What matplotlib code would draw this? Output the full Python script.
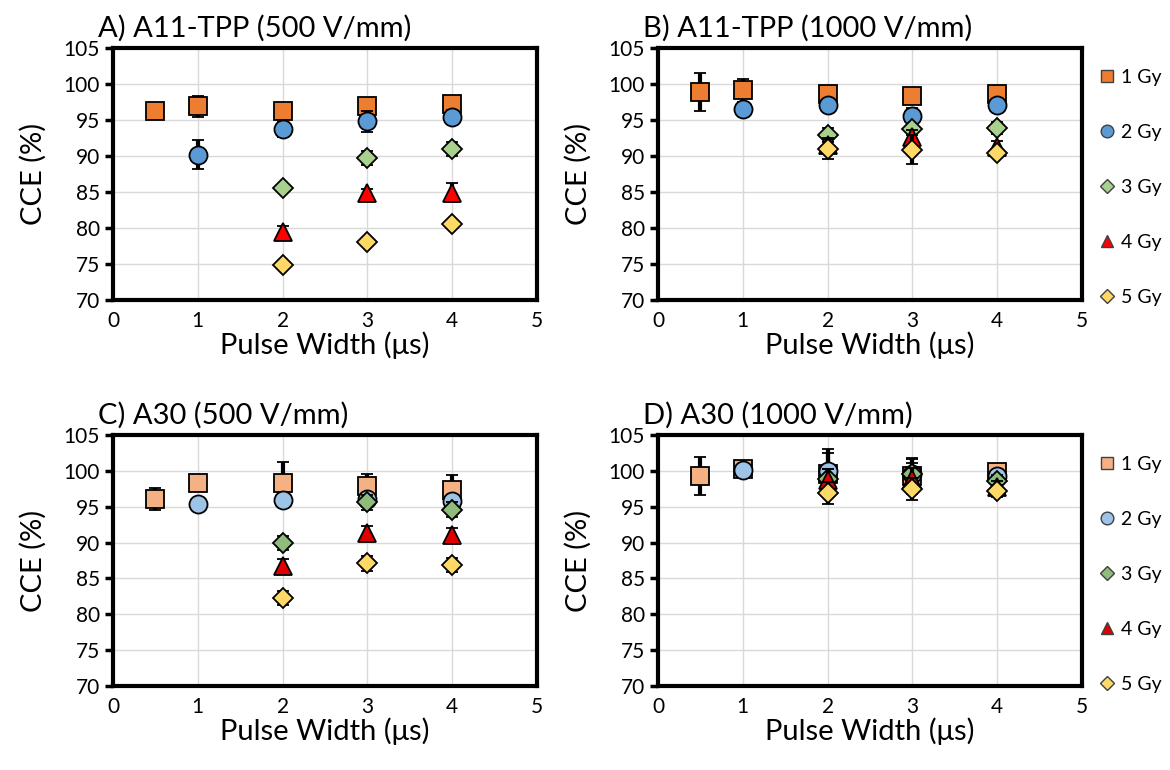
import matplotlib
matplotlib.use('Agg')
import matplotlib.pyplot as plt

plt.rcParams['font.family'] = ['Lato', 'DejaVu Sans']

# pulse widths (us)
x_1gy = [0.5, 1, 2, 3, 4]
x_2gy = [1, 2, 3, 4]
x_hi = [2, 3, 4]

doses = ['1 Gy', '2 Gy', '3 Gy', '4 Gy', '5 Gy']
titles = ['A) A11-TPP (500 V/mm)', 'B) A11-TPP (1000 V/mm)',
          'C) A30 (500 V/mm)', 'D) A30 (1000 V/mm)']

# A) A11-TPP 500 V/mm
a_y = [[96.2, 96.9, 96.3, 96.9, 97.2],
       [90.2, 93.7, 94.8, 95.4],
       [85.5, 89.7, 91.0],
       [79.5, 84.9, 84.9],
       [74.8, 78.1, 80.5]]
a_err = [[0.0, 1.5, 1.0, 0.7, 0.6],
         [2.0, 1.0, 1.5, 1.0],
         [0.3, 1.0, 1.0],
         [0.8, 0.5, 1.3],
         [0.2, 0.2, 0.2]]

# B) A11-TPP 1000 V/mm
b_y = [[98.9, 99.1, 98.6, 98.4, 98.6],
       [96.5, 97.1, 95.6, 97.1],
       [92.9, 93.8, 93.9],
       [91.5, 92.6, 91.3],
       [91.0, 90.9, 90.4]]
b_err = [[2.6, 1.6, 0.7, 0.9, 0.3],
         [1.0, 0.5, 1.0, 0.3],
         [1.0, 0.5, 0.8],
         [1.0, 1.0, 0.8],
         [1.4, 2.0, 0.6]]

# C) A30 500 V/mm
c_y = [[96.1, 98.3, 98.3, 97.9, 97.4],
       [95.4, 95.9, 96.1, 95.8],
       [89.9, 95.6, 94.6],
       [86.7, 91.3, 91.0],
       [82.3, 87.1, 86.9]]
c_err = [[1.5, 0.3, 3.0, 1.6, 2.0],
         [0.8, 1.0, 0.8, 0.8],
         [1.0, 1.0, 1.0],
         [1.0, 1.0, 1.0],
         [1.0, 1.0, 1.0]]

# D) A30 1000 V/mm
d_y = [[99.3, 100.2, 99.5, 99.3, 99.8],
       [100.1, 100.0, 99.6, 99.3],
       [98.8, 99.6, 98.6],
       [98.7, 98.9, 97.8],
       [96.9, 97.5, 97.2]]
d_err = [[2.7, 0.5, 3.0, 2.5, 0.7],
         [0.8, 3.0, 2.0, 0.7],
         [1.5, 1.5, 0.8],
         [1.5, 1.5, 0.8],
         [1.5, 1.5, 0.8]]

xs = [x_1gy, x_2gy, x_hi, x_hi, x_hi]
markers = ['s', 'o', 'D', '^', 'D']
msizes = [13, 13, 10, 13, 10]
cols_a = ['#ED7D31', '#5B9BD5', '#A9D18E', '#FF0000', '#FFD966']
cols_c = ['#F4B183', '#9DC3E6', '#8FBC7A', '#E00000', '#FFD966']

fig = plt.figure(figsize=(11.7, 7.7), dpi=100)
W, H = 1170.0, 770.0
boxes = [(113, 48, 537, 300), (658, 48, 1082, 300),
         (113, 435, 537, 686), (658, 435, 1082, 686)]
data = [(a_y, a_err, cols_a), (b_y, b_err, cols_a),
        (c_y, c_err, cols_c), (d_y, d_err, cols_c)]

for i, (l, t, r, b) in enumerate(boxes):
    ax = fig.add_axes([l / W, 1 - b / H, (r - l) / W, (b - t) / H])
    ys, errs, cols = data[i]
    for k in range(5):
        ax.errorbar(xs[k], ys[k], yerr=errs[k], fmt=markers[k],
                    ms=msizes[k], mfc=cols[k], mec='black', mew=1.3,
                    ecolor='black', elinewidth=3, capsize=4, capthick=3,
                    zorder=3 + k, label=doses[k])
    ax.set_xlim(0, 5)
    ax.set_ylim(70, 105)
    ax.set_xticks(range(0, 6))
    ax.set_yticks(range(70, 106, 5))
    ax.grid(True, color='#d9d9d9', lw=1)
    ax.set_axisbelow(True)
    for s in ax.spines.values():
        s.set_linewidth(3)
    ax.tick_params(axis='y', direction='out', length=6, width=2.5, labelsize=15)
    ax.tick_params(axis='x', length=0, labelsize=15, pad=8)
    ax.set_xlabel('Pulse Width (\u03bcs)', fontsize=21, labelpad=0)
    ax.set_ylabel('CCE (%)', fontsize=21, labelpad=12)
    ax.set_title(titles[i], fontsize=21, loc='left', x=-0.035, pad=8)
    if i in (1, 3):
        leg_h = [plt.Line2D([], [], ls='none', marker=markers[k],
                            ms=msizes[k] * 0.7, mfc=cols[k], mec='#404040',
                            mew=1) for k in range(5)]
        ax.legend(leg_h, doses, loc='upper left', bbox_to_anchor=(0.99, 0.985),
                  frameon=False, fontsize=14, labelspacing=1.95,
                  handletextpad=0.1, handlelength=1.2)

fig.savefig('out.png', dpi=100)
